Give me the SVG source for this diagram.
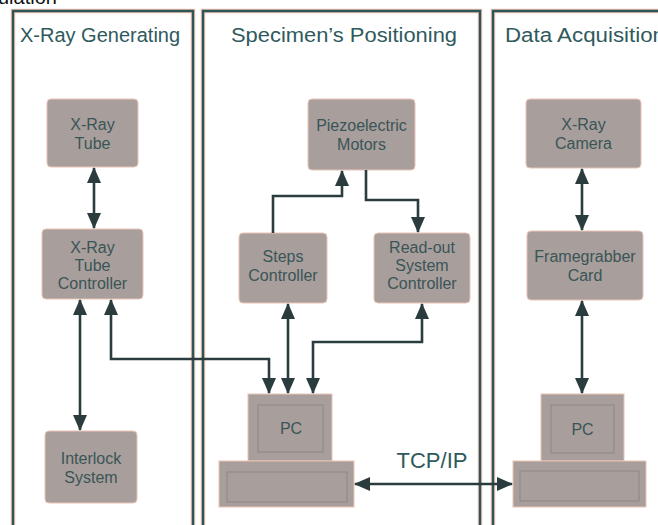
<svg xmlns="http://www.w3.org/2000/svg" width="658" height="525" viewBox="0 0 658 525">
<style>
.panelA{fill:none;stroke:#f2c2b2;stroke-width:4.5}
.panelB{fill:none;stroke:#2d5659;stroke-width:2.4}
.title{font-family:"Liberation Sans",Arial,sans-serif;font-size:20px;fill:#2f5a5d}
.node{fill:#a89e9b;stroke:#e9c3b6;stroke-width:1}
.inner{fill:none;stroke:#8f8583;stroke-width:1}
.lbl{font-family:"Liberation Sans",Arial,sans-serif;font-size:16px;fill:#3a5558;text-anchor:middle}
.conn{fill:none;stroke:#2b3c3e;stroke-width:2.6}
</style>
<defs>
<marker id="ah" viewBox="0 0 16 14" refX="15" refY="7" markerWidth="16" markerHeight="14" orient="auto-start-reverse" markerUnits="userSpaceOnUse">
<path d="M0,0 L16,7 L0,14 z" fill="#2b3c3e"/>
</marker>
</defs>
<rect width="658" height="525" fill="#ffffff"/>
<text x="-2" y="4" font-family="Liberation Sans,Arial,sans-serif" font-size="20" fill="#111">ulation</text>

<g id="panel-xray">
<path class="panelA" d="M13,530 V11 H193 V530"/>
<path class="panelB" d="M13,530 V11 H193 V530"/>
<text class="title" x="20" y="42">X-Ray Generating</text>
</g>
<g id="panel-specimen">
<path class="panelA" d="M203,530 V11 H480 V530"/>
<path class="panelB" d="M203,530 V11 H480 V530"/>
<text class="title" x="231" y="42" textLength="226" lengthAdjust="spacingAndGlyphs">Specimen’s Positioning</text>
</g>
<g id="panel-data">
<path class="panelA" d="M493,530 V11 H670"/>
<path class="panelB" d="M493,530 V11 H670"/>
<text class="title" x="505" y="42" textLength="160" lengthAdjust="spacingAndGlyphs">Data Acquisition</text>
</g>

<g id="xray-tube">
<rect class="node" x="47" y="99" width="91" height="68" rx="4"/>
<text class="lbl" x="92.5" y="130">X-Ray</text>
<text class="lbl" x="92.5" y="149">Tube</text>
</g>
<g id="xray-tube-controller">
<rect class="node" x="42" y="229" width="101" height="70" rx="4"/>
<text class="lbl" x="92.5" y="253">X-Ray</text>
<text class="lbl" x="92.5" y="271">Tube</text>
<text class="lbl" x="92.5" y="289">Controller</text>
</g>
<g id="interlock-system">
<rect class="node" x="45" y="431" width="92" height="72" rx="4"/>
<text class="lbl" x="91" y="464">Interlock</text>
<text class="lbl" x="91" y="483">System</text>
</g>
<g id="piezoelectric-motors">
<rect class="node" x="308" y="99" width="107" height="71" rx="4"/>
<text class="lbl" x="361.5" y="131">Piezoelectric</text>
<text class="lbl" x="361.5" y="150">Motors</text>
</g>
<g id="steps-controller">
<rect class="node" x="239" y="233" width="88" height="70" rx="4"/>
<text class="lbl" x="283" y="262">Steps</text>
<text class="lbl" x="283" y="281">Controller</text>
</g>
<g id="readout-system-controller">
<rect class="node" x="374" y="233" width="96" height="70" rx="4"/>
<text class="lbl" x="422" y="253">Read-out</text>
<text class="lbl" x="422" y="271">System</text>
<text class="lbl" x="422" y="289">Controller</text>
</g>
<g id="pc-specimen">
<rect class="node" x="248" y="394" width="84" height="67"/>
<rect class="inner" x="258" y="405" width="65" height="47"/>
<text class="lbl" x="291" y="434">PC</text>
<rect class="node" x="219" y="461" width="135" height="46"/>
<rect class="inner" x="227" y="472" width="120" height="30"/>
</g>
<g id="xray-camera">
<rect class="node" x="526" y="99" width="115" height="69" rx="4"/>
<text class="lbl" x="583.5" y="130">X-Ray</text>
<text class="lbl" x="583.5" y="149">Camera</text>
</g>
<g id="framegrabber-card">
<rect class="node" x="527" y="231" width="116" height="69" rx="4"/>
<text class="lbl" x="585" y="262">Framegrabber</text>
<text class="lbl" x="585" y="281">Card</text>
</g>
<g id="pc-data">
<rect class="node" x="541" y="394" width="83" height="67"/>
<rect class="inner" x="551" y="405" width="63" height="48"/>
<text class="lbl" x="582.5" y="435">PC</text>
<rect class="node" x="513" y="461" width="133" height="46"/>
<rect class="inner" x="520" y="471" width="119" height="30"/>
</g>

<text x="432" y="468" font-family="Liberation Sans,Arial,sans-serif" font-size="22" fill="#2f5a5d" text-anchor="middle">TCP/IP</text>

<g id="connectors">
<path class="conn" d="M94,168 V228" marker-start="url(#ah)" marker-end="url(#ah)"/>
<path class="conn" d="M80,300 V430" marker-start="url(#ah)" marker-end="url(#ah)"/>
<path class="conn" d="M111,300 V359 H269 V393" marker-start="url(#ah)" marker-end="url(#ah)"/>
<path class="conn" d="M288,304 V393" marker-start="url(#ah)" marker-end="url(#ah)"/>
<path class="conn" d="M422,304 V342 H313 V393" marker-start="url(#ah)" marker-end="url(#ah)"/>
<path class="conn" d="M273,233 V196 H342 V171" marker-end="url(#ah)"/>
<path class="conn" d="M366,170 V200 H418 V232" marker-end="url(#ah)"/>
<path class="conn" d="M582,169 V230" marker-start="url(#ah)" marker-end="url(#ah)"/>
<path class="conn" d="M582,301 V393" marker-start="url(#ah)" marker-end="url(#ah)"/>
<path class="conn" d="M355,484 H512" marker-start="url(#ah)" marker-end="url(#ah)"/>
</g>
</svg>
